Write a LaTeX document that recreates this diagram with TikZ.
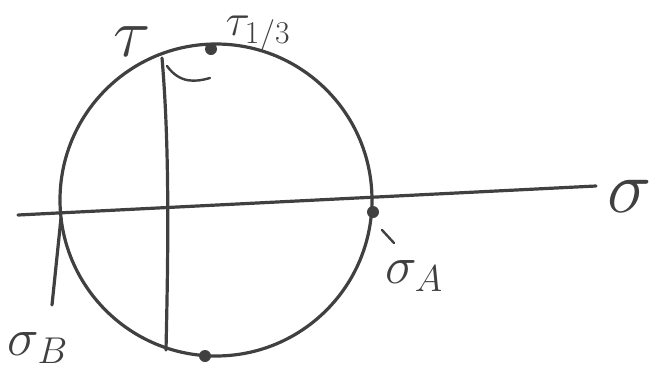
\RequirePackage{fix-cm}
\documentclass[tikz,border=0pt]{standalone}
\usepackage{amsmath}
\begin{document}
\begin{tikzpicture}[x=0.75pt,y=-0.75pt,
  ink/.style={draw=inkc,line width=2.4pt,line cap=round,line join=round},
  dotm/.style={circle,fill=inkc,inner sep=0pt,minimum size=9pt},
  lab/.style={text=inkc,inner sep=0pt}]
\definecolor{inkc}{HTML}{404040}
\useasboundingbox (0,0) rectangle (672,379);
% Mohr circle
\node[ink,circle,minimum size=234pt,inner sep=0pt] (c) at (216,200) {};
% sigma axis
\coordinate (axl) at (18,215);
\coordinate (axr) at (596,186);
\draw[ink] (axl) -- (axr);
% points
\node[dotm] (sa) at (373,212) {};
\node[dotm] (t13) at (211,49) {};
\node[dotm] (bot) at (205,356) {};
\coordinate (sb) at (61,218);
\coordinate (tt) at (162,58);
\coordinate (tb) at (166,350);
% tau line
\draw[ink] (tt) .. controls (170,150) and (168,260) .. (tb);
% small angle arc
\coordinate (arcs) at (167,66);
\coordinate (arce) at (210,78);
\draw[ink,line width=1.8pt] (arcs) .. controls (180,84) and (196,82) .. (arce);
% sigma_B pointer
\coordinate (sbend) at (52,305);
\draw[ink] (sb) -- (sbend);
% sigma_A tick
\coordinate (tk1) at (382,230);
\coordinate (tk2) at (394,243);
\draw[ink,line width=1.8pt] (tk1) -- (tk2);
% labels
\node[lab,font=\fontsize{52}{52}\selectfont] (ltau) at (132,42) {$\tau$};
\node[lab,font=\fontsize{34}{34}\selectfont] (lt13) at (258,34) {$\tau_{1/3}$};
\node[lab,font=\fontsize{56}{56}\selectfont] (lsig) at (630,196) {$\sigma$};
\node[lab,font=\fontsize{40}{40}\selectfont] (lsa) at (414,276) {$\sigma_A$};
\node[lab,font=\fontsize{40}{40}\selectfont] (lsb) at (38,348) {$\sigma_B$};
\end{tikzpicture}
\end{document}
